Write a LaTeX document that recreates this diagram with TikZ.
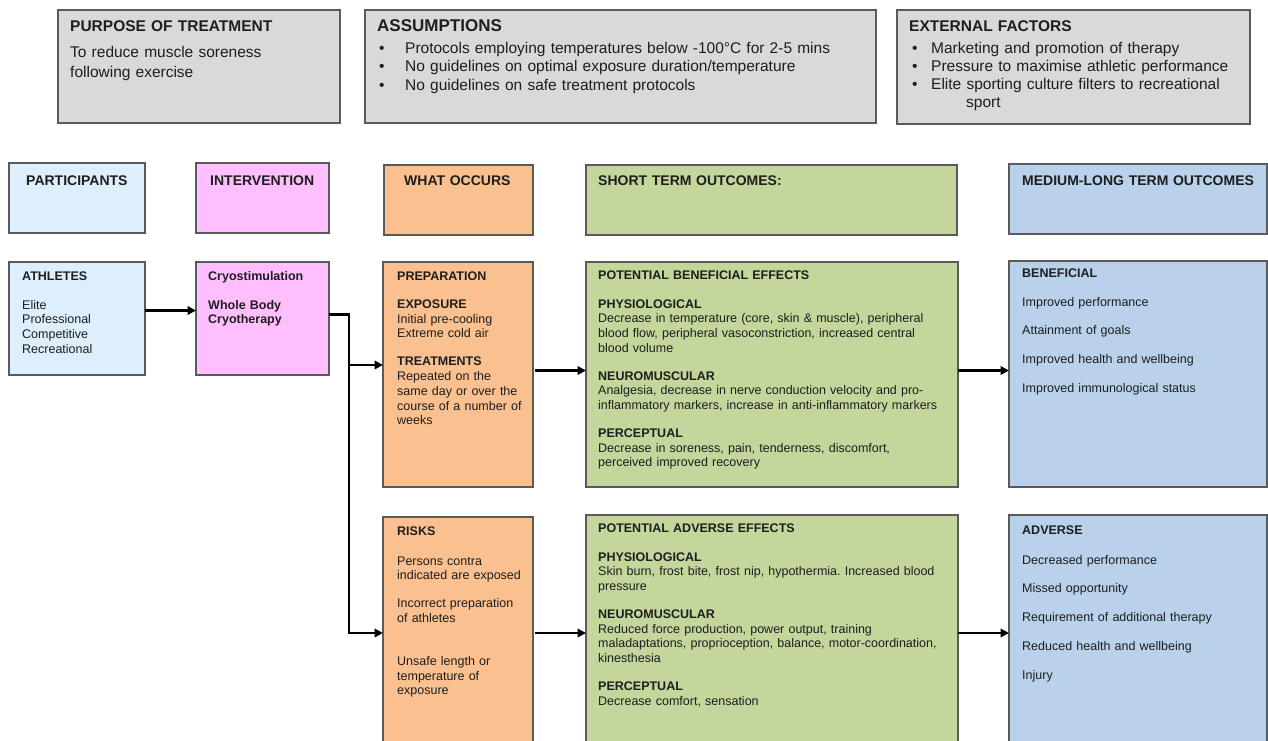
\documentclass[tikz,border=0pt]{standalone}
\usepackage{fontspec}
\setmainfont{Liberation Sans}
\usetikzlibrary{arrows.meta}
\definecolor{grayfill}{HTML}{D9D9D9}
\definecolor{bordergray}{HTML}{5A5A5A}
\definecolor{partblue}{HTML}{DDEEFC}
\definecolor{pinkfill}{HTML}{FFBFFF}
\definecolor{orangefill}{HTML}{FAC090}
\definecolor{greenfill}{HTML}{C3D69B}
\definecolor{bluefill}{HTML}{B9D1EA}
\definecolor{txtcol}{HTML}{1E1E1E}
\newcommand\topfont{\fontsize{15.5}{20.7}\selectfont}
\newcommand\hdfont{\fontsize{14}{16}\selectfont\bfseries}
\newcommand\bodyf{\fontsize{12.5}{14.7}\selectfont}
\frenchspacing
\tikzset{
  box/.style={draw=bordergray, line width=1.2pt, anchor=north west, inner sep=0pt, outer sep=0pt},
  txt/.style={anchor=base west, align=left, inner sep=0pt, text width=#1, text=txtcol},
  txt/.default=360pt,
  arr/.style={draw=black, line width=2.4pt, line join=miter, -{Triangle[length=8.5pt,width=8.5pt]}},
}
\begin{document}
\begin{tikzpicture}[x=1pt,y=-1pt]
\useasboundingbox (0,0) rectangle (1268,740);
\fill[white] (0,0) rectangle (1268,740);
% top boxes
\node[box, fill=grayfill, minimum width=282pt, minimum height=113pt] (purpose) at (58,10) {};
\node[box, fill=grayfill, minimum width=511pt, minimum height=113pt] (assume) at (365,10) {};
\node[box, fill=grayfill, minimum width=353pt, minimum height=114pt] (extern) at (897,10) {};
% header row
\node[box, fill=partblue, minimum width=136pt, minimum height=70pt] (hpart) at (9,163) {};
\node[box, fill=pinkfill, minimum width=133pt, minimum height=70pt] (hint) at (196,163) {};
\node[box, fill=orangefill, minimum width=149pt, minimum height=70pt] (hwhat) at (384,165) {};
\node[box, fill=greenfill, minimum width=371pt, minimum height=70pt] (hshort) at (586,165) {};
\node[box, fill=bluefill, minimum width=258pt, minimum height=70pt] (hmed) at (1009,164) {};
% body boxes
\node[box, fill=partblue, minimum width=136pt, minimum height=113pt] (athletes) at (9,262) {};
\node[box, fill=pinkfill, minimum width=133pt, minimum height=113pt] (interv) at (196,262) {};
\node[box, fill=orangefill, minimum width=150pt, minimum height=225pt] (prep) at (383,262) {};
\node[box, fill=greenfill, minimum width=372pt, minimum height=225pt] (gben) at (586,262) {};
\node[box, fill=bluefill, minimum width=258pt, minimum height=226pt] (bben) at (1009,261) {};
\node[box, fill=orangefill, minimum width=150pt, minimum height=232pt] (risks) at (383,517) {};
\node[box, fill=greenfill, minimum width=372pt, minimum height=234pt] (gadv) at (586,515) {};
\node[box, fill=bluefill, minimum width=258pt, minimum height=234pt] (badv) at (1009,515) {};

% top texts
\node[txt=270pt, font=\topfont] (purposeT) at (70,31) {\textbf{PURPOSE OF TREATMENT}\\[5.5pt]To reduce muscle soreness\\following exercise};
\node[txt=500pt, font=\topfont] (assumeH) at (377,31) {\fontsize{17}{20}\selectfont\textbf{ASSUMPTIONS}};
\node[txt=490pt, font=\fontsize{15.5}{18.7}\selectfont] (assumeT) at (379,53) {\makebox[26pt][l]{\textbullet}Protocols employing temperatures below -100°C for 2-5 mins\\\makebox[26pt][l]{\textbullet}No guidelines on optimal exposure duration/temperature\\\makebox[26pt][l]{\textbullet}No guidelines on safe treatment protocols};
\node[txt=340pt, font=\topfont] (externH) at (909,31) {\textbf{EXTERNAL FACTORS}};
\node[txt=340pt, font=\fontsize{15.5}{18}\selectfont] (externT) at (912,53) {\makebox[19pt][l]{\textbullet}Marketing and promotion of therapy\\\makebox[19pt][l]{\textbullet}Pressure to maximise athletic performance\\\makebox[19pt][l]{\textbullet}Elite sporting culture filters to recreational\\\hspace*{54pt}sport};

% header texts
\node[txt=130pt, font=\hdfont] (hpartT) at (26,185) {PARTICIPANTS};
\node[txt=130pt, font=\hdfont] (hintT) at (210,185) {INTERVENTION};
\node[txt=140pt, font=\hdfont] (hwhatT) at (404,185) {WHAT OCCURS};
\node[txt=300pt, font=\hdfont] (hshortT) at (598,185) {SHORT TERM OUTCOMES:};
\node[txt=250pt, font=\hdfont] (hmedT) at (1022,185) {MEDIUM-LONG TERM OUTCOMES};

% body texts
\node[txt=125pt, font=\bodyf] (athletesT) at (22,280) {\textbf{ATHLETES}\\[14.3pt]Elite\\Professional\\Competitive\\Recreational};
\node[txt=125pt, font=\bodyf] (intervT) at (208,280) {\textbf{Cryostimulation}\\[14.3pt]\textbf{Whole Body}\\\textbf{Cryotherapy}};
\node[txt=140pt, font=\bodyf] (prepT) at (397,280) {\textbf{PREPARATION}\\[13.8pt]\textbf{EXPOSURE}\\Initial pre-cooling\\Extreme cold air\\[13.3pt]\textbf{TREATMENTS}\\Repeated on the\\same day or over the\\course of a number of\\weeks};
\node[txt=360pt, font=\bodyf] (gbenT) at (598,279) {\textbf{POTENTIAL BENEFICIAL EFFECTS}\\[14.3pt]\textbf{PHYSIOLOGICAL}\\Decrease in temperature (core, skin \& muscle), peripheral\\blood flow, peripheral vasoconstriction, increased central\\blood volume\\[13.3pt]\textbf{NEUROMUSCULAR}\\Analgesia, decrease in nerve conduction velocity and pro-\\inflammatory markers, increase in anti-inflammatory markers\\[13.3pt]\textbf{PERCEPTUAL}\\Decrease in soreness, pain, tenderness, discomfort,\\perceived improved recovery};
\node[txt=240pt, font=\bodyf] (bbenT) at (1022,277) {\textbf{BENEFICIAL}\\[14.5pt]Improved performance\\[14pt]Attainment of goals\\[14pt]Improved health and wellbeing\\[14pt]Improved immunological status};
\node[txt=140pt, font=\bodyf] (risksT) at (397,535) {\textbf{RISKS}\\[15.3pt]Persons contra\\indicated are exposed\\[13.3pt]Incorrect preparation\\of athletes\\[28.3pt]Unsafe length or\\temperature of\\exposure};
\node[txt=360pt, font=\bodyf] (gadvT) at (598,532) {\textbf{POTENTIAL ADVERSE EFFECTS}\\[14.3pt]\textbf{PHYSIOLOGICAL}\\Skin burn, frost bite, frost nip, hypothermia. Increased blood\\pressure\\[13.3pt]\textbf{NEUROMUSCULAR}\\Reduced force production, power output, training\\maladaptations, proprioception, balance, motor-coordination,\\kinesthesia\\[13.3pt]\textbf{PERCEPTUAL}\\Decrease comfort, sensation};
\node[txt=240pt, font=\bodyf] (badvT) at (1022,534) {\textbf{ADVERSE}\\[15.3pt]Decreased performance\\[13.3pt]Missed opportunity\\[14.3pt]Requirement of additional therapy\\[14.3pt]Reduced health and wellbeing\\[14.3pt]Injury};

% connectors
\coordinate (ya) at (0,310.5);
\coordinate (ja) at (349,314.5);
\coordinate (jb) at (349,365);
\coordinate (jc) at (349,633);
\coordinate (yb) at (0,370.5);
\coordinate (yc) at (0,633);
\draw[arr] (athletes.east |- ya) -- (interv.west |- ya);
\draw[arr] (interv.east |- ja) -- (ja) -- (jc) -- (risks.west |- jc);
\draw[arr] (jb) -- (prep.west |- jb);
\draw[arr] ([xshift=2pt]prep.east |- yb) -- (gben.west |- yb);
\draw[arr] (gben.east |- yb) -- (bben.west |- yb);
\draw[arr] ([xshift=2pt]risks.east |- yc) -- (gadv.west |- yc);
\draw[arr] (gadv.east |- yc) -- (badv.west |- yc);
\end{tikzpicture}
\end{document}
